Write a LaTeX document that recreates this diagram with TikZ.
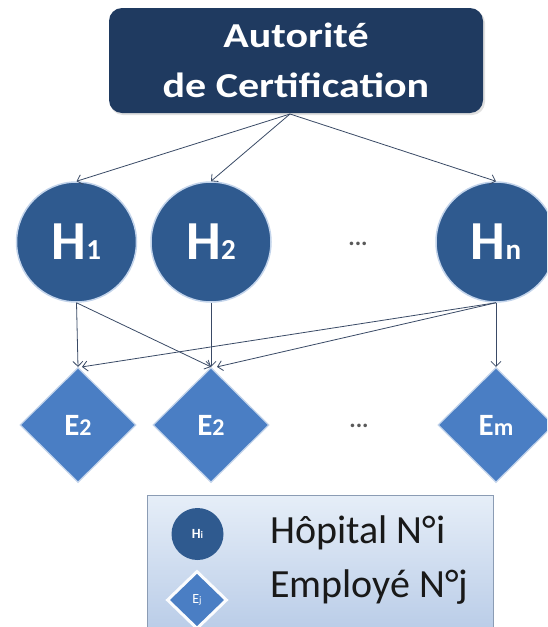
\documentclass[tikz,border=0pt]{standalone}
\usepackage{fontspec}
\setmainfont{Carlito}
\usetikzlibrary{shapes.geometric,arrows.meta}
\definecolor{navy}{HTML}{1F3A60}
\definecolor{hosp}{HTML}{2F5A8F}
\definecolor{empl}{HTML}{4A7EC4}
\definecolor{glow}{HTML}{C3D4EB}
\definecolor{arr}{HTML}{3A4A66}
\definecolor{legtop}{HTML}{E6EEF8}
\definecolor{legbot}{HTML}{B5C9E6}
\definecolor{legborder}{HTML}{8B9CB4}
\tikzset{
  cabox/.style={rectangle, rounded corners=13pt, fill=navy, text=white,
    minimum width=374pt, minimum height=105pt, inner sep=0pt, align=center,
    font=\bfseries\fontsize{35}{52}\selectfont},
  hnode/.style={circle, fill=hosp, draw=glow, line width=1.5pt, minimum size=120pt,
    inner sep=0pt, text=white, font=\bfseries\fontsize{55}{55}\selectfont},
  enode/.style={diamond, fill=empl, draw=glow, line width=1.2pt, minimum width=116pt,
    minimum height=115pt, inner sep=0pt, text=white, font=\bfseries\fontsize{31}{31}\selectfont},
  conn/.style={draw=arr, line width=0.8pt, -{Straight Barb[length=5pt,width=10pt]}},
  dotsnode/.style={text=black!65, font=\bfseries\fontsize{24}{24}\selectfont, inner sep=0pt},
  legbox/.style={draw=legborder, line width=0.8pt, top color=legtop, bottom color=legbot},
  legtext/.style={anchor=base west, inner sep=0pt, text=black!90, font=\fontsize{40}{40}\selectfont},
}
\begin{document}
\begin{tikzpicture}[x=1pt,y=-1pt]
\useasboundingbox (0,0) rectangle (547,627);
\fill[white] (0,0) rectangle (547,627);
\begin{scope}
\clip (0,0) rectangle (547,627);
% top box
\fill[black!12, rounded corners=13pt] (110,10) rectangle (485,115);
\node[cabox] (CA) at (296,60.5) {\raisebox{-2pt}{\scalebox{1.2}[1]{Autorité}}\\\scalebox{1.2}[1]{de Certification}};
\coordinate (CAs) at (290,114);
% hospitals
\node[hnode] (H1) at (76.5,242) {H{\fontsize{29}{29}\selectfont 1}};
\node[hnode] (H2) at (211,242) {H{\fontsize{29}{29}\selectfont 2}};
\node[hnode] (Hn) at (496,242) {H{\fontsize{29}{29}\selectfont n}};
\node[dotsnode] (d1) at (358,244) {...};
% employees
\node[enode] (E1) at (78,425) {E{\fontsize{24}{24}\selectfont 2}};
\node[enode] (E2) at (211,425) {E{\fontsize{24}{24}\selectfont 2}};
\node[enode] (Em) at (496,425) {E{\fontsize{24}{24}\selectfont m}};
\node[dotsnode] (d2) at (359,426) {...};
% connectors
\draw[conn] (CAs) -- (H1.north);
\draw[conn] (CAs) -- (H2.north);
\draw[conn] (CAs) -- (Hn.north);
\draw[conn] (H1.south) -- (E1.north);
\draw[conn] (H1.south) -- (E2.north);
\draw[conn] (H2.south) -- (E2.north);
\draw[conn] (Hn.south) -- ([xshift=4pt]E1.north);
\draw[conn] (Hn.south) -- ([xshift=6pt]E2.north);
\draw[conn] (Hn.south) -- (Em.north);
% legend
\path[legbox] (147,495) rectangle (493,645);
\node[circle, fill=hosp, minimum size=52pt, inner sep=0pt, text=white,
  font=\bfseries\fontsize{14}{14}\selectfont] (LH) at (197.5,534) {H{\fontsize{10}{10}\selectfont i}};
\node[diamond, fill=empl, draw=white!85!legtop, line width=3pt, minimum width=60pt,
  minimum height=58pt, inner sep=0pt, text=white,
  font=\fontsize{14}{14}\selectfont] (LE) at (197,600) {E{\fontsize{10}{10}\selectfont j}};
\node[legtext] (LHt) at (270,543) {Hôpital N°i};
\node[legtext] (LEt) at (270,597) {Employé N°j};
\end{scope}
\end{tikzpicture}
\end{document}
